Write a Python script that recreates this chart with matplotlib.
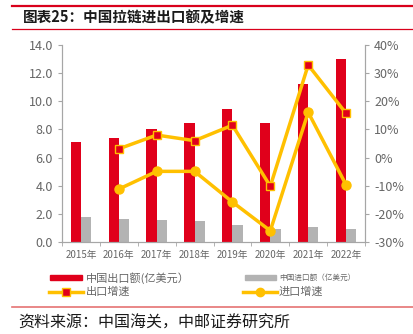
import numpy as np
import matplotlib
matplotlib.use('Agg')
import matplotlib.pyplot as plt
from matplotlib.lines import Line2D
from matplotlib.patches import Rectangle
from matplotlib.ticker import FixedLocator, FuncFormatter

plt.rcParams['font.family'] = ['Noto Sans CJK SC', 'DejaVu Sans']

# data
years = ['2015年', '2016年', '2017年', '2018年', '2019年', '2020年', '2021年', '2022年']
export_amt = [7.13, 7.37, 8.0, 8.46, 9.43, 8.46, 11.26, 13.0]
import_amt = [1.8, 1.63, 1.54, 1.47, 1.23, 0.9, 1.04, 0.92]
export_growth = [np.nan, 3.1, 8.0, 6.0, 11.5, -10.2, 32.9, 15.7]
import_growth = [np.nan, -11.2, -4.9, -4.9, -15.8, -26.0, 16.1, -9.7]

red = '#E0001B'
gray = '#B3B3B3'
gold = '#FFC000'
txt = '#666666'

W, H = 413, 334
fig = plt.figure(figsize=(W / 100, H / 100), dpi=100)
ax = fig.add_axes([62 / W, 1 - 242 / H, 303 / W, 197 / H])

x = np.arange(len(years))
bw = 0.27
ax.bar(x - bw / 2, export_amt, bw, color=red, zorder=2)
ax.bar(x + bw / 2, import_amt, bw, color=gray, zorder=2)
ax.set_xlim(-0.5, len(years) - 0.5)
ax.set_ylim(0, 14)
ax.set_yticks(np.arange(0, 14.1, 2))
ax.yaxis.set_major_formatter(FuncFormatter(lambda v, p: f'{v:.1f}'))
ax.set_xticks(x)
ax.set_xticklabels(years, fontsize=7, color=txt)
ax.xaxis.set_minor_locator(FixedLocator(np.arange(-0.5, len(years), 1)))
ax.tick_params(axis='x', which='major', length=0, pad=6)
ax.tick_params(axis='x', which='minor', length=3, color='#A6A6A6')
ax.tick_params(axis='y', labelsize=9, colors=txt, length=3)
ax.tick_params(axis='y', color='#A6A6A6')

ax2 = ax.twinx()
ax2.plot(x, export_growth, color=gold, lw=2.5, marker='s', ms=5.5,
         mfc=red, mec=gold, mew=1, zorder=3)
ax2.plot(x, import_growth, color=gold, lw=2.5, marker='o', ms=6.5,
         mfc=gold, mec=gold, zorder=3)
ax2.set_ylim(-30, 40)
ax2.set_yticks(np.arange(-30, 41, 10))
ax2.yaxis.set_major_formatter(FuncFormatter(lambda v, p: f'{v:.0f}%'))
ax2.tick_params(axis='y', labelsize=9, colors=txt, length=3)
ax2.tick_params(axis='y', color='#A6A6A6')

for a in (ax, ax2):
    a.spines['top'].set_visible(False)
    for s in ('left', 'right', 'bottom'):
        a.spines[s].set_color('#A6A6A6')
        a.spines[s].set_linewidth(0.8)

# title and decoration lines
fig.add_artist(Line2D([12 / W, 1], [1 - 5.5 / H] * 2, color='#D9001B', lw=1.6))
fig.add_artist(Line2D([12 / W, 1], [1 - 29 / H] * 2, color='#D9001B', lw=0.9))
fig.text(23 / W, 1 - 17 / H, '图表25：中国拉链进出口额及增速', fontsize=10.5,
         fontweight='bold', va='center', ha='left', color='#1a1a1a')
fig.add_artist(Line2D([12 / W, 1], [1 - 306.7 / H] * 2, color='#E57373', lw=1.2))
fig.text(18 / W, 1 - 323 / H, '资料来源：中国海关，中邮证券研究所', fontsize=11.5,
         va='center', ha='left', color='#1a1a1a')

# legend
y1 = 1 - 277.7 / H
y2 = 1 - 291.7 / H
fig.add_artist(Rectangle((50 / W, y1 - 2.5 / H), 32 / W, 5 / H, color=red))
fig.text(86 / W, y1, '中国出口额(亿美元）', fontsize=8, va='center', color=txt)
fig.add_artist(Rectangle((245 / W, y1 - 2.5 / H), 31 / W, 5 / H, color=gray))
fig.text(279 / W, y1, '中国进口额（亿美元）', fontsize=5.5, va='center', color=txt)
fig.add_artist(Line2D([49 / W, 83 / W], [y2, y2], color=gold, lw=2.5))
fig.add_artist(Line2D([66 / W], [y2], marker='s', ms=5.5, mfc=red, mec=gold, mew=1))
fig.text(86 / W, y2, '出口增速', fontsize=8, va='center', color=txt)
fig.add_artist(Line2D([243 / W, 277 / W], [y2, y2], color=gold, lw=2.5))
fig.add_artist(Line2D([260 / W], [y2], marker='o', ms=6, mfc=gold, mec=gold))
fig.text(279 / W, y2, '进口增速', fontsize=8, va='center', color=txt)

fig.savefig('out.png', dpi=100)
